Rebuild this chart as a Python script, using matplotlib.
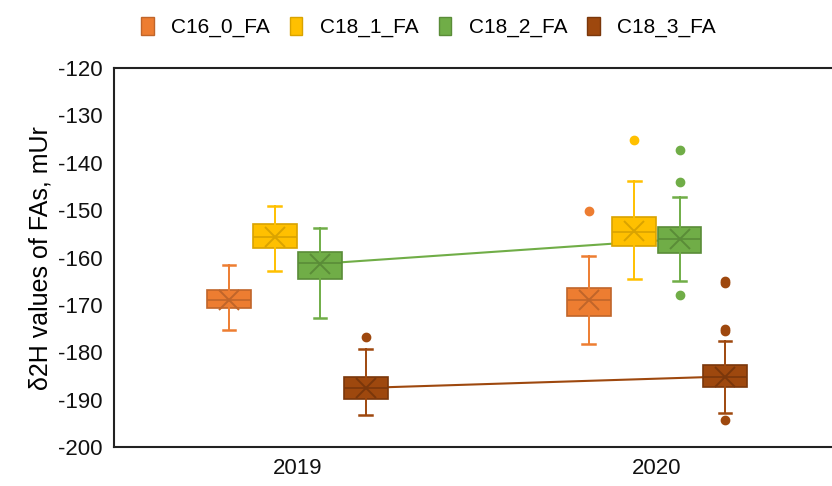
import numpy as np
import matplotlib
matplotlib.use("Agg")
import matplotlib.pyplot as plt
from matplotlib.patches import Patch

plt.rcParams['font.family'] = ['Liberation Sans', 'DejaVu Sans']
plt.rcParams['axes.unicode_minus'] = False

years = ["2019", "2020"]
series = ["C16_0_FA", "C18_1_FA", "C18_2_FA", "C18_3_FA"]
colors = ["#ED7D31", "#FFC000", "#70AD47", "#9E480E"]
dark = ["#C0652A", "#D9A300", "#5A8C38", "#7A370B"]

# summary values: [2019, 2020]
whislo = {"C16_0_FA": [-175.3, -178.3], "C18_1_FA": [-162.8, -164.5],
          "C18_2_FA": [-172.8, -164.9], "C18_3_FA": [-193.2, -192.9]}
q1 = {"C16_0_FA": [-170.7, -172.3], "C18_1_FA": [-157.9, -157.5],
      "C18_2_FA": [-164.6, -159.1], "C18_3_FA": [-189.9, -187.3]}
med = {"C16_0_FA": [-169.0, -169.0], "C18_1_FA": [-155.6, -154.5],
       "C18_2_FA": [-161.2, -156.1], "C18_3_FA": [-187.6, -185.2]}
q3 = {"C16_0_FA": [-166.9, -166.4], "C18_1_FA": [-152.9, -151.4],
      "C18_2_FA": [-158.8, -153.5], "C18_3_FA": [-185.2, -182.7]}
whishi = {"C16_0_FA": [-161.6, -159.6], "C18_1_FA": [-149.1, -143.8],
          "C18_2_FA": [-153.8, -147.2], "C18_3_FA": [-179.2, -177.5]}
means = {"C16_0_FA": [-169.0, -169.0], "C18_1_FA": [-155.6, -154.3],
         "C18_2_FA": [-161.3, -156.1], "C18_3_FA": [-187.5, -185.1]}
fliers = {"C16_0_FA": [[], [-150.1]], "C18_1_FA": [[], [-135.2]],
          "C18_2_FA": [[], [-137.4, -144.0, -168.0]],
          "C18_3_FA": [[-176.7], [-165.0, -165.3, -175.0, -175.4, -194.3]]}

offsets = [-0.19, -0.063, 0.063, 0.19]
width = 0.122

fig = plt.figure(figsize=(8.32, 4.86), dpi=100)
ax = fig.add_axes([0.137, 0.080, 0.866, 0.780])

for s, name in enumerate(series):
    stats = []
    for i in range(len(years)):
        stats.append(dict(whislo=whislo[name][i], q1=q1[name][i], med=med[name][i],
                          q3=q3[name][i], whishi=whishi[name][i], mean=means[name][i],
                          fliers=fliers[name][i]))
    pos = [i + 1 + offsets[s] for i in range(len(years))]
    ax.bxp(stats, positions=pos, widths=width, showmeans=True, patch_artist=True,
           boxprops=dict(facecolor=colors[s], edgecolor=dark[s], linewidth=1.2),
           medianprops=dict(color=dark[s], linewidth=1.2),
           whiskerprops=dict(color=colors[s], linewidth=1.4),
           capprops=dict(color=colors[s], linewidth=1.8),
           capwidths=0.035,
           meanprops=dict(marker='x', markersize=14, markeredgecolor=dark[s],
                          markeredgewidth=1.4),
           flierprops=dict(marker='o', markersize=6, markerfacecolor=colors[s],
                           markeredgecolor=colors[s]),
           zorder=3)
    if name in ("C18_2_FA", "C18_3_FA"):
        ax.plot(pos, means[name], color=colors[s], linewidth=1.5, zorder=2)

ax.set_xlim(0.49, 2.494)
ax.set_ylim(-200, -120)
ax.set_yticks(np.arange(-200, -119, 10))
ax.set_xticks([1, 2])
ax.set_xticklabels(years)
ax.tick_params(axis='both', length=0, labelsize=16, colors='#111111', pad=8)
ax.set_ylabel("δ2H values of FAs, mUr", fontsize=18, labelpad=4)
ax.spines['right'].set_visible(False)
for sp in ['left', 'top', 'bottom']:
    ax.spines[sp].set_linewidth(1.5)
    ax.spines[sp].set_color('#222222')

handles = [Patch(facecolor=c, edgecolor=d, label=n) for c, d, n in zip(colors, dark, series)]
fig.legend(handles=handles, loc='center', bbox_to_anchor=(0.515, 0.944), ncol=4,
           frameon=False, fontsize=15, handlelength=0.6, handleheight=0.95,
           handletextpad=0.85, columnspacing=0.95)

fig.savefig("out.png", dpi=100)
